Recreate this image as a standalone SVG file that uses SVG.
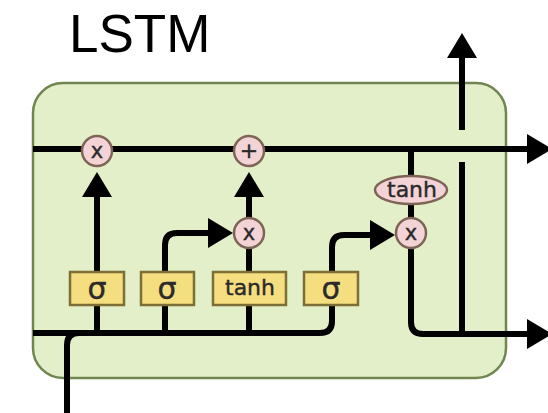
<svg xmlns="http://www.w3.org/2000/svg" width="548" height="413" viewBox="0 0 548 413">
<style>
.cell{fill:#e3efc9;stroke:#6f8651;stroke-width:2.5}
.ln{fill:none;stroke:#000;stroke-width:6}
.gate{fill:#f5de7f;stroke:#7d6e36;stroke-width:2.5}
.op{fill:#f3d3d6;stroke:#7e6456;stroke-width:2.5}
.t{font-family:"DejaVu Sans",Verdana,sans-serif;fill:#2a2a2a;text-anchor:middle;stroke:#2a2a2a;stroke-width:0.4}
.title{font-family:"Liberation Sans",Arial,sans-serif;font-size:53px;fill:#000}
</style>
<defs>
<marker id="ah" markerUnits="userSpaceOnUse" markerWidth="26" markerHeight="30" refX="0" refY="15" orient="auto" viewBox="0 0 26 30">
<path d="M0,0 L25,15 L0,30 z" fill="#000"/>
</marker>
</defs>
<rect width="548" height="413" fill="#fff"/>
<text class="title" x="69" y="52">LSTM</text>
<rect id="cell" class="cell" x="33" y="83" width="473" height="295" rx="30" ry="30"/>
<g id="connectors">
<path class="ln" d="M33,149 H527" marker-end="url(#ah)"/>
<path class="ln" d="M33,333 H320 Q332,333 332,321 V247 Q332,235 344,235 H370" marker-end="url(#ah)"/>
<path class="ln" d="M67,413 V345 Q67,333 79,333"/>
<path class="ln" d="M97,333 V197" marker-end="url(#ah)"/>
<path class="ln" d="M165,333 V245 Q165,233 177,233 H208" marker-end="url(#ah)"/>
<path class="ln" d="M249,333 V240"/>
<path class="ln" d="M249,218 V197" marker-end="url(#ah)"/>
<path class="ln" d="M411,149 V230"/>
<path class="ln" d="M411,245 V322 Q411,334 423,334 H527" marker-end="url(#ah)"/>
<path class="ln" d="M462,334 V162"/>
<path class="ln" d="M462,130 V58" marker-end="url(#ah)"/>
</g>
<g id="mul_forget"><circle class="op" cx="97" cy="151" r="15"/><text class="t" x="97" y="158" font-size="21">x</text></g>
<g id="add_cell"><circle class="op" cx="249" cy="151" r="15"/><text class="t" x="249" y="158" font-size="22">+</text></g>
<g id="mul_input"><circle class="op" cx="249" cy="233" r="15"/><text class="t" x="249" y="240" font-size="21">x</text></g>
<g id="mul_output"><circle class="op" cx="411" cy="233" r="15"/><text class="t" x="411" y="240" font-size="21">x</text></g>
<g id="tanh_out"><ellipse class="op" cx="411" cy="190" rx="36" ry="14"/><text class="t" x="412" y="197" font-size="22">tanh</text></g>
<g id="sigma1"><rect class="gate" x="70" y="272" width="54" height="33"/><text class="t" x="97" y="299" font-size="30">σ</text></g>
<g id="sigma2"><rect class="gate" x="141" y="272" width="53" height="33"/><text class="t" x="167" y="299" font-size="30">σ</text></g>
<g id="tanh_gate"><rect class="gate" x="213" y="272" width="73" height="33"/><text class="t" x="250" y="295" font-size="22">tanh</text></g>
<g id="sigma3"><rect class="gate" x="304" y="272" width="54" height="33"/><text class="t" x="331" y="299" font-size="30">σ</text></g>
</svg>
